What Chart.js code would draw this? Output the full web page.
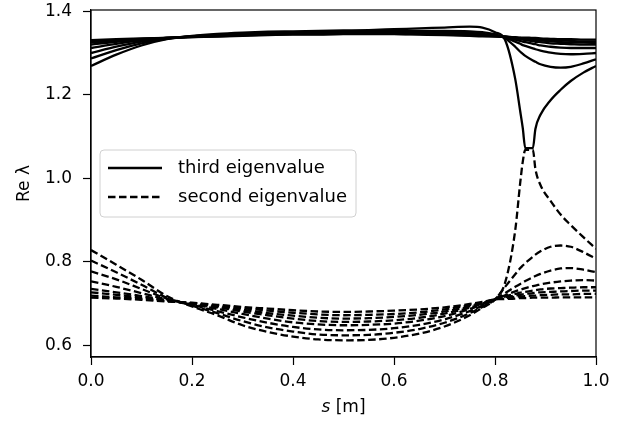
<!DOCTYPE html>
<html>
<head>
<meta charset="utf-8">
<script src="https://cdn.jsdelivr.net/npm/chart.js@4.4.1/dist/chart.umd.min.js"></script>
<style>
  html, body { margin: 0; padding: 0; background: #fff; }
  #wrap { width: 642px; height: 432px; }
</style>
</head>
<body>
<div id="wrap"><canvas id="Chart_0" width="642" height="432"></canvas></div>
<script>
"use strict";

// position along the line, s [m]
const S = [0, 0.05, 0.1, 0.15, 0.2, 0.25, 0.3, 0.35, 0.4, 0.45, 0.5, 0.55, 0.6, 0.65, 0.7, 0.75, 0.775, 0.8,
  0.82, 0.84, 0.85, 0.855, 0.86, 0.875, 0.88, 0.89, 0.91, 0.93, 0.95, 0.975, 1.0];

// third eigenvalue, Re λ (one array per case)
const third_A = [1.269, 1.296, 1.318, 1.333, 1.341, 1.346, 1.349, 1.351, 1.352, 1.353, 1.354, 1.355, 1.357, 1.359, 1.361, 1.363, 1.361, 1.350,
  1.331, 1.238, 1.160, 1.120, 1.072, 1.072, 1.118, 1.152, 1.187, 1.212, 1.233, 1.253, 1.269];
const third_B = [1.287, 1.307, 1.323, 1.334, 1.340, 1.344, 1.347, 1.349, 1.350, 1.351, 1.352, 1.352, 1.353, 1.353, 1.353, 1.352, 1.350, 1.345,
  1.335, 1.315, 1.303, 1.298, 1.293, 1.282, 1.279, 1.273, 1.267, 1.265, 1.267, 1.275, 1.285];
const third_C = [1.300, 1.315, 1.327, 1.335, 1.340, 1.343, 1.346, 1.348, 1.349, 1.350, 1.350, 1.351, 1.351, 1.351, 1.350, 1.348, 1.346, 1.342,
  1.337, 1.327, 1.322, 1.319, 1.317, 1.311, 1.309, 1.306, 1.301, 1.298, 1.297, 1.298, 1.300];
const third_D = [1.312, 1.322, 1.330, 1.336, 1.340, 1.342, 1.345, 1.347, 1.348, 1.349, 1.349, 1.349, 1.349, 1.349, 1.348, 1.346, 1.344, 1.341,
  1.338, 1.332, 1.329, 1.327, 1.326, 1.322, 1.321, 1.318, 1.315, 1.313, 1.312, 1.312, 1.312];
const third_E = [1.320, 1.327, 1.332, 1.336, 1.339, 1.342, 1.344, 1.346, 1.347, 1.347, 1.348, 1.348, 1.348, 1.347, 1.346, 1.344, 1.343, 1.341,
  1.339, 1.335, 1.333, 1.332, 1.331, 1.328, 1.327, 1.326, 1.323, 1.322, 1.321, 1.320, 1.320];
const third_F = [1.325, 1.329, 1.333, 1.336, 1.339, 1.341, 1.343, 1.345, 1.346, 1.346, 1.347, 1.347, 1.347, 1.346, 1.345, 1.343, 1.342, 1.340,
  1.339, 1.336, 1.335, 1.334, 1.333, 1.331, 1.331, 1.330, 1.328, 1.326, 1.325, 1.325, 1.324];
const third_G = [1.328, 1.331, 1.334, 1.336, 1.338, 1.340, 1.342, 1.344, 1.345, 1.345, 1.346, 1.346, 1.346, 1.345, 1.344, 1.342, 1.341, 1.340,
  1.339, 1.337, 1.336, 1.335, 1.335, 1.334, 1.334, 1.333, 1.331, 1.330, 1.329, 1.328, 1.328];
const third_H = [1.331, 1.333, 1.335, 1.336, 1.338, 1.339, 1.341, 1.343, 1.344, 1.344, 1.345, 1.345, 1.345, 1.344, 1.343, 1.341, 1.340, 1.340,
  1.339, 1.338, 1.337, 1.337, 1.337, 1.336, 1.336, 1.335, 1.334, 1.333, 1.333, 1.332, 1.332];

// second eigenvalue, Re λ
const second_A = [0.828, 0.793, 0.757, 0.718, 0.693, 0.672, 0.648, 0.632, 0.621, 0.614, 0.612, 0.613, 0.618, 0.628, 0.645, 0.672, 0.690, 0.710,
  0.750, 0.875, 0.990, 1.040, 1.068, 1.068, 1.022, 0.984, 0.946, 0.913, 0.888, 0.859, 0.831];
const second_B = [0.803, 0.775, 0.745, 0.714, 0.695, 0.677, 0.658, 0.643, 0.633, 0.626, 0.624, 0.625, 0.630, 0.639, 0.654, 0.677, 0.692, 0.710,
  0.740, 0.770, 0.785, 0.791, 0.797, 0.812, 0.817, 0.825, 0.836, 0.839, 0.836, 0.823, 0.807];
const second_C = [0.777, 0.758, 0.735, 0.712, 0.697, 0.682, 0.667, 0.654, 0.644, 0.638, 0.636, 0.637, 0.641, 0.649, 0.662, 0.682, 0.695, 0.710,
  0.725, 0.740, 0.747, 0.750, 0.754, 0.763, 0.766, 0.771, 0.779, 0.784, 0.785, 0.781, 0.775];
const second_D = [0.753, 0.740, 0.725, 0.710, 0.698, 0.687, 0.675, 0.664, 0.655, 0.650, 0.648, 0.649, 0.652, 0.659, 0.670, 0.687, 0.698, 0.710,
  0.720, 0.729, 0.733, 0.735, 0.737, 0.742, 0.743, 0.746, 0.750, 0.753, 0.755, 0.756, 0.755];
const second_E = [0.735, 0.727, 0.718, 0.708, 0.699, 0.691, 0.681, 0.672, 0.664, 0.658, 0.656, 0.657, 0.660, 0.666, 0.676, 0.690, 0.700, 0.710,
  0.717, 0.723, 0.726, 0.727, 0.728, 0.731, 0.732, 0.734, 0.736, 0.737, 0.738, 0.739, 0.739];
const second_F = [0.727, 0.721, 0.714, 0.707, 0.700, 0.693, 0.685, 0.677, 0.671, 0.666, 0.664, 0.665, 0.668, 0.673, 0.681, 0.693, 0.701, 0.710,
  0.715, 0.719, 0.721, 0.722, 0.723, 0.725, 0.726, 0.727, 0.728, 0.729, 0.730, 0.731, 0.731];
const second_G = [0.719, 0.715, 0.711, 0.706, 0.701, 0.695, 0.689, 0.683, 0.678, 0.674, 0.672, 0.673, 0.675, 0.679, 0.686, 0.696, 0.702, 0.710,
  0.713, 0.716, 0.717, 0.717, 0.718, 0.719, 0.719, 0.720, 0.721, 0.722, 0.722, 0.723, 0.723];
const second_H = [0.714, 0.712, 0.709, 0.705, 0.702, 0.697, 0.692, 0.688, 0.684, 0.681, 0.680, 0.681, 0.683, 0.686, 0.691, 0.699, 0.704, 0.710,
  0.711, 0.712, 0.713, 0.713, 0.713, 0.714, 0.714, 0.714, 0.714, 0.715, 0.715, 0.715, 0.715];

const X_TICKS = [0.0, 0.2, 0.4, 0.6, 0.8, 1.0];
const Y_TICKS = [0.6, 0.8, 1.0, 1.2, 1.4];
const LEGEND_LABELS = ['third eigenvalue', 'second eigenvalue'];

const FONT = '"DejaVu Sans", sans-serif';
const DASH = [7.5, 3.5];
const LW = 2.3;

const thirdSet = [third_A, third_B, third_C, third_D, third_E, third_F, third_G, third_H];
const secondSet = [second_A, second_B, second_C, second_D, second_E, second_F, second_G, second_H];

function toPoints(arr) { return S.map((s, i) => ({ x: s, y: arr[i] })); }

function lineSet(arr, dashed) {
  return {
    data: toPoints(arr),
    borderColor: '#000',
    borderWidth: LW,
    borderDash: dashed ? DASH : [],
    borderCapStyle: 'butt',
    pointRadius: 0,
    fill: false,
    cubicInterpolationMode: 'monotone',
  };
}

const datasets = []
  .concat(secondSet.map(a => lineSet(a, true)))
  .concat(thirdSet.map(a => lineSet(a, false)));

// plot area in pixels: left 91, top 10, bottom 357
const AREA = { left: 91, top: 10, bottom: 357 };

// full box around the plot + legend + x label with italic s
const framePlugin = {
  id: 'frame',
  afterDraw(chart) {
    const ctx = chart.ctx, a = chart.chartArea;
    ctx.save();
    ctx.strokeStyle = '#000';
    ctx.lineWidth = 1.2;
    ctx.strokeRect(a.left, a.top, a.right - a.left, a.bottom - a.top);

    // legend
    const x0 = a.left + 9, y0 = a.top + 140, w = 256, h = 67, r = 4;
    ctx.beginPath();
    ctx.moveTo(x0 + r, y0);
    ctx.arcTo(x0 + w, y0, x0 + w, y0 + h, r);
    ctx.arcTo(x0 + w, y0 + h, x0, y0 + h, r);
    ctx.arcTo(x0, y0 + h, x0, y0, r);
    ctx.arcTo(x0, y0, x0 + w, y0, r);
    ctx.closePath();
    ctx.fillStyle = 'rgba(255,255,255,0.8)';
    ctx.fill();
    ctx.strokeStyle = '#d0d0d0';
    ctx.lineWidth = 1;
    ctx.stroke();

    ctx.font = '18px ' + FONT;
    ctx.fillStyle = '#000';
    ctx.textBaseline = 'middle';
    ctx.textAlign = 'left';
    LEGEND_LABELS.forEach((label, i) => {
      const ly = y0 + 18 + i * 29;
      ctx.beginPath();
      ctx.setLineDash(i === 0 ? [] : DASH);
      ctx.lineWidth = LW;
      ctx.strokeStyle = '#000';
      ctx.moveTo(x0 + 8, ly);
      ctx.lineTo(x0 + 62, ly);
      ctx.stroke();
      ctx.setLineDash([]);
      ctx.fillText(label, x0 + 78, ly);
    });

    // x axis label
    const cx = (a.left + a.right) / 2, ty = 408;
    ctx.font = 'italic 17px ' + FONT;
    const w1 = ctx.measureText('s').width;
    ctx.font = '17px ' + FONT;
    const w2 = ctx.measureText(' [m]').width;
    const tx = cx - (w1 + w2) / 2;
    ctx.font = 'italic 17px ' + FONT;
    ctx.fillText('s', tx, ty);
    ctx.font = '17px ' + FONT;
    ctx.fillText(' [m]', tx + w1, ty);
    ctx.restore();
  }
};

Chart.defaults.font.family = FONT;
Chart.defaults.color = '#000';

const ctx = document.getElementById('Chart_0');
const chart = new Chart(ctx, {
  type: 'line',
  data: { datasets: datasets },
  options: {
    responsive: false,
    animation: false,
    devicePixelRatio: 1,
    layout: { padding: { left: 0, top: 0, right: 46, bottom: 0 } },
    plugins: { legend: { display: false }, tooltip: { enabled: false } },
    scales: {
      x: {
        type: 'linear',
        min: 0, max: 1,
        afterBuildTicks: (scale) => { scale.ticks = X_TICKS.map(v => ({ value: v })); },
        afterFit: (scale) => { scale.height = 432 - AREA.bottom; },
        ticks: { font: { size: 17 }, padding: 6, maxRotation: 0, callback: v => v.toFixed(1) },
        grid: { drawOnChartArea: false, drawTicks: true, tickLength: 8, tickColor: '#000', tickWidth: 1.2 },
        border: { display: true, color: '#000', width: 1.2 },
      },
      y: {
        type: 'linear',
        min: 0.572, max: 1.403,
        afterBuildTicks: (scale) => { scale.ticks = Y_TICKS.map(v => ({ value: v })); },
        afterFit: (scale) => { scale.width = AREA.left; scale.paddingTop = AREA.top; },
        ticks: { font: { size: 17 }, padding: 11, callback: v => v.toFixed(1) },
        grid: { drawOnChartArea: false, drawTicks: true, tickLength: 8, tickColor: '#000', tickWidth: 1.2 },
        border: { display: true, color: '#000', width: 1.2 },
        title: { display: true, text: 'Re λ', font: { size: 17 }, padding: { top: 14, bottom: 0 } },
      },
    },
  },
  plugins: [framePlugin],
});
</script>
</body>
</html>
